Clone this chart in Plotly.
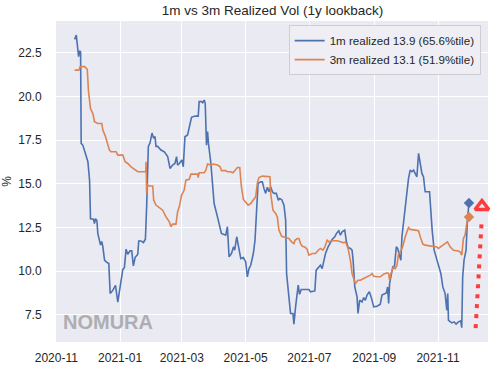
import pandas as pd
import plotly.graph_objects as go

# ---- data (x = days since 2020-11-01, y = realized vol in %) ----
base_date = "2020-11-01"

days_1m = [17.5, 19.1, 21.3, 22.2, 23.2, 23.8, 25.4, 28.0, 30.2, 31.8, 32.7, 35.6, 36.5, 37.5, 38.8, 39.7,
           41.3, 42.3, 43.5, 44.5, 46.1, 47.7, 50.2, 51.5, 54.0, 56.6, 58.8, 60.4, 62.3, 63.6, 65.1, 66.7,
           68.3, 70.5, 72.1, 73.7, 75.3, 77.9, 78.8, 81.0, 83.3, 85.2, 86.4, 88.0, 89.6, 91.5, 93.1, 94.4,
           95.3, 96.9, 100.1, 103.3, 106.5, 108.7, 111.2, 113.4, 115.0, 116.0, 117.6, 120.1, 121.4, 123.0,
           125.5, 127.1, 129.3, 132.8, 135.7, 136.6, 138.9, 140.0, 141.4, 142.4, 143.6, 144.6, 145.5, 147.8,
           149.4, 150.9, 154.1, 156.3, 157.9, 162.0, 163.6, 165.2, 167.5, 169.4, 170.6, 172.5, 174.8, 176.4,
           178.9, 181.1, 182.7, 184.3, 185.9, 188.4, 190.0, 191.6, 192.9, 195.4, 197.0, 198.6, 200.2, 201.8,
           203.4, 205.0, 206.6, 208.1, 210.4, 212.3, 213.5, 215.5, 217.7, 219.3, 220.2, 222.4, 224.0, 226.3,
           227.2, 228.8, 230.4, 231.3, 232.6, 234.2, 236.7, 241.5, 243.1, 247.2, 248.5, 250.4, 252.6, 254.2,
           255.8, 257.4, 259.9, 262.2, 263.8, 266.3, 267.9, 270.1, 271.7, 273.3, 275.8, 277.4, 279.0, 281.2,
           282.8, 283.8, 285.4, 287.6, 288.5, 290.1, 292.3, 293.9, 295.5, 297.1, 299.3, 301.2, 303.5, 306.7,
           309.8, 311.4, 313.6, 315.6, 316.8, 317.8, 318.7, 320.0, 321.9, 323.2, 324.1, 325.1, 326.4, 328.3,
           329.5, 330.5, 332.1, 333.7, 335.3, 336.8, 338.4, 340.0, 341.6, 343.2, 344.8, 346.4, 348.0, 349.6,
           351.1, 352.7, 356.9, 358.1, 359.4, 361.3, 363.9, 365.4, 367.7, 369.6, 371.8, 373.4, 374.3, 375.0,
           378.2, 380.4, 382.3, 384.5, 386.7, 387.7, 388.6, 389.9, 391.8, 393.1, 394.6]
vol_1m = [23.26, 23.5, 22.27, 22.6, 22.55, 17.31, 17.2, 16.7, 16.26, 15.2, 13.0, 12.97, 12.72, 13.0, 12.9, 12.15,
          11.78, 11.5, 11.7, 11.4, 10.63, 10.53, 10.44, 8.72, 8.9, 9.19, 8.23, 8.9, 9.85, 10.1, 10.2, 11.26,
          10.97, 11.16, 11.16, 10.3, 10.78, 10.97, 11.73, 11.73, 11.64, 11.83, 13.72, 17.14, 17.33, 17.9, 17.6, 17.7,
          17.14, 17.14, 16.93, 16.83, 16.55, 15.88, 16.07, 16.16, 16.55, 16.07, 16.16, 16.36, 15.97, 17.69,
          17.79, 18.3, 18.8, 18.87, 18.87, 19.7, 19.7, 19.64, 19.79, 19.6, 17.21, 17.98, 17.31, 16.16,
          14.83, 13.87, 13.11, 12.44, 12.16, 12.06, 12.54, 10.82, 11.01, 11.39, 11.2, 11.97, 11.3, 10.72,
          10.78, 10.53, 9.68, 10.15, 10.34, 11.01, 11.77, 14.06, 15.02, 15.11, 15.11, 14.73, 14.45, 14.8,
          14.55, 14.83, 14.54, 14.45, 14.45, 14.06, 14.16, 14.1, 13.78, 12.92, 9.87, 8.53, 7.58, 7.58,
          6.97, 7.96, 8.63, 9.2, 8.68, 8.95, 8.95, 8.95, 8.82, 8.87, 10.06, 10.21, 10.34, 10.15,
          10.63, 11.01, 11.39, 11.62, 11.81, 11.97, 12.16, 12.31, 12.06, 12.25, 12.35, 11.68, 11.35, 11.3,
          11.2, 10.63, 9.1, 8.53, 7.58, 8.34, 8.24, 8.49, 8.34, 8.63, 8.82, 8.5, 7.96, 8.0,
          8.11, 8.63, 8.72, 8.76, 9.1, 8.15, 9.29, 9.77, 10.29, 10.15, 10.63, 11.39, 11.3, 10.92,
          10.63, 11.97, 12.82, 13.97, 14.45, 15.31, 15.78, 15.69, 15.78, 15.59, 15.4, 16.74, 16.07, 15.59,
          15.4, 14.54, 14.54, 13.4, 12.35, 11.2, 10.63, 10.25, 9.87, 9.1, 8.72, 7.77, 8.72, 7.19,
          7.04, 7.1, 6.97, 7.1, 7.16, 6.77, 9.68, 10.63, 11.2, 12.92, 13.9]

days_3m = [17.5, 21.6, 22.9, 27.0, 29.6, 30.8, 32.7, 35.0, 36.5, 39.7, 43.5, 44.5, 47.0, 49.3, 50.8, 52.4,
           57.2, 58.8, 63.6, 65.8, 68.3, 71.5, 73.7, 76.3, 77.9, 83.3, 85.5, 85.8, 86.4, 87.0, 88.0, 92.2,
           93.1, 95.3, 100.1, 101.7, 104.9, 108.1, 109.6, 111.2, 114.4, 116.0, 117.6, 119.8, 122.3, 123.9,
           127.1, 128.7, 135.1, 135.7, 136.6, 141.4, 143.0, 144.6, 147.8, 150.3, 154.1, 156.7, 157.9, 162.0,
           163.6, 166.8, 169.0, 171.6, 173.2, 175.4, 177.0, 178.9, 181.1, 183.4, 185.9, 188.4, 190.7, 192.3,
           193.8, 197.0, 203.4, 204.3, 205.0, 207.2, 209.7, 211.3, 212.9, 215.5, 219.3, 222.4, 225.0, 227.2,
           228.2, 230.4, 232.0, 233.6, 235.2, 237.7, 239.9, 241.5, 244.7, 247.9, 250.4, 252.6, 254.9, 256.8,
           259.0, 260.6, 263.8, 268.5, 271.7, 274.9, 276.5, 279.0, 281.2, 282.8, 284.4, 286.0, 288.5, 290.8,
           293.9, 297.1, 300.3, 301.9, 303.5, 306.7, 309.8, 313.0, 316.2, 317.8, 318.7, 320.0, 322.5, 324.1,
           325.7, 327.3, 329.5, 331.1, 332.1, 333.7, 335.3, 336.8, 338.4, 343.2, 346.4, 348.0, 350.5, 352.7,
           357.5, 363.9, 365.4, 368.6, 371.8, 374.0, 376.6, 379.7, 383.6, 386.1, 387.7, 389.3, 390.9, 392.5,
           394.6]
vol_3m = [21.5, 21.5, 21.7, 21.7, 21.55, 20.27, 19.3, 19.0, 18.55, 18.45, 18.45, 18.07, 17.7, 17.3, 16.93, 16.83,
          16.83, 16.64, 16.64, 16.26, 16.16, 15.97, 15.88, 15.78, 15.69, 15.69, 15.69, 16.26, 14.45, 15.0, 14.87, 14.87,
          14.06, 13.78, 13.59, 13.49, 13.11, 12.82, 12.54, 12.69, 12.69, 13.4, 13.68, 14.35, 14.64, 15.21,
          15.25, 15.55, 15.55, 15.36, 15.63, 15.63, 15.78, 16.13, 16.07, 16.13, 16.07, 15.97, 15.75, 15.75,
          15.69, 15.69, 15.63, 15.78, 15.93, 15.93, 14.83, 14.1, 13.97, 13.78, 13.87, 14.06, 14.26, 15.06,
          15.36, 15.44, 15.44, 15.4, 14.45, 13.49, 13.3, 13.11, 12.35, 12.0, 11.93, 11.87, 11.68, 11.58,
          11.77, 11.87, 11.87, 11.58, 11.43, 11.39, 11.24, 10.92, 11.01, 11.01, 11.2, 11.3, 11.2, 11.39,
          11.77, 11.68, 11.74, 11.74, 11.68, 11.62, 11.68, 11.3, 10.63, 9.87, 9.58, 9.29, 9.48, 9.48,
          9.58, 9.68, 9.77, 9.87, 9.71, 9.68, 9.68, 9.83, 9.91, 9.87, 9.48, 9.87, 10.25, 10.15,
          10.34, 11.01, 11.17, 11.39, 11.68, 11.97, 12.25, 12.5, 12.39, 12.35, 12.31, 11.97, 11.55, 11.49,
          11.43, 11.39, 11.3, 11.43, 11.58, 11.68, 11.39, 11.2, 11.17, 11.11, 10.92, 11.87, 12.06, 12.73,
          13.1]

label_1m = "1m realized 13.9 (65.6%tile)"
label_3m = "3m realized 13.1 (51.9%tile)"
last_day = 394.6
last_1m = 13.9
last_3m = 13.1

# red dotted "rising" arrow annotation (days, value)
arrow_days = [401.0, 406.8]
arrow_vals = [6.74, 12.95]
arrow_head_day = 407.0
arrow_head_val = 13.7

x_range_days = [-0.3, 412.8]
y_range = [5.95, 24.31]

BLUE = "#4C72B0"
ORANGE = "#DD8452"
RED = "#FF3B3B"
TXT = "#262626"
FONT = "Liberation Sans, Arial, sans-serif"


def to_dates(d):
    return pd.Timestamp(base_date) + pd.to_timedelta(pd.Series(d, dtype=float), unit="D")


fig = go.Figure()
fig.add_trace(go.Scatter(x=to_dates(days_1m), y=vol_1m, mode="lines", name=label_1m,
                         line=dict(color=BLUE, width=1.6)))
fig.add_trace(go.Scatter(x=to_dates(days_3m), y=vol_3m, mode="lines", name=label_3m,
                         line=dict(color=ORANGE, width=1.6)))
fig.add_trace(go.Scatter(x=to_dates([last_day]), y=[last_1m], mode="markers", showlegend=False,
                         marker=dict(symbol="diamond", size=8, color=BLUE)))
fig.add_trace(go.Scatter(x=to_dates([last_day]), y=[last_3m], mode="markers", showlegend=False,
                         marker=dict(symbol="diamond", size=8, color=ORANGE)))
fig.add_trace(go.Scatter(x=to_dates(arrow_days), y=arrow_vals, mode="lines", showlegend=False,
                         line=dict(color=RED, width=4, dash="4px,6px")))
fig.add_trace(go.Scatter(x=to_dates([arrow_head_day]), y=[arrow_head_val], mode="markers", showlegend=False,
                         cliponaxis=False,
                         marker=dict(symbol="triangle-up-open", size=12, color=RED,
                                     line=dict(color=RED, width=3.5))))

xr = to_dates(x_range_days)

fig.update_layout(
    width=500, height=369,
    margin=dict(l=56, r=12, t=21, b=27, autoexpand=False),
    paper_bgcolor="white", plot_bgcolor="#EAEAF2",
    font=dict(family=FONT, size=12, color=TXT),
    title=dict(text="1m vs 3m Realized Vol (1y lookback)", x=0.545, xanchor="center",
               y=1 - 10 / 369, yanchor="middle", font=dict(size=13.5, color=TXT)),
    xaxis=dict(type="date", range=[xr.iloc[0], xr.iloc[1]], dtick="M2", tick0=base_date,
               tickformat="%Y-%m", showgrid=True, gridcolor="white", gridwidth=1.2,
               zeroline=False, showline=False, ticks="outside", ticklen=5, automargin=False,
               tickcolor="rgba(0,0,0,0)", tickfont=dict(size=12, color=TXT)),
    yaxis=dict(range=y_range, dtick=2.5, tick0=0, tickformat=".1f", showgrid=True,
               gridcolor="white", gridwidth=1.2, zeroline=False, showline=False,
               ticks="outside", ticklen=11, tickcolor="rgba(0,0,0,0)", automargin=False,
               tickfont=dict(size=12, color=TXT),
               title=dict(text="%", font=dict(size=12, color=TXT), standoff=6)),
    legend=dict(x=0.983, xanchor="right", y=0.987, yanchor="top",
                bgcolor="rgba(238,238,244,0.92)", bordercolor="#CDCDD2", borderwidth=1,
                itemwidth=30, font=dict(size=11.6, color=TXT)),
    showlegend=True,
)

fig.add_annotation(text="<b>NOMURA</b>", xref="paper", yref="paper", x=0.1215, y=0.063,
                   xanchor="center", yanchor="middle", showarrow=False,
                   font=dict(family=FONT, size=20, color="#AEAEB2"))

fig.write_html("out.html", config={"displayModeBar": False},
               post_script="document.body.style.margin='0';document.body.style.padding='0';")
